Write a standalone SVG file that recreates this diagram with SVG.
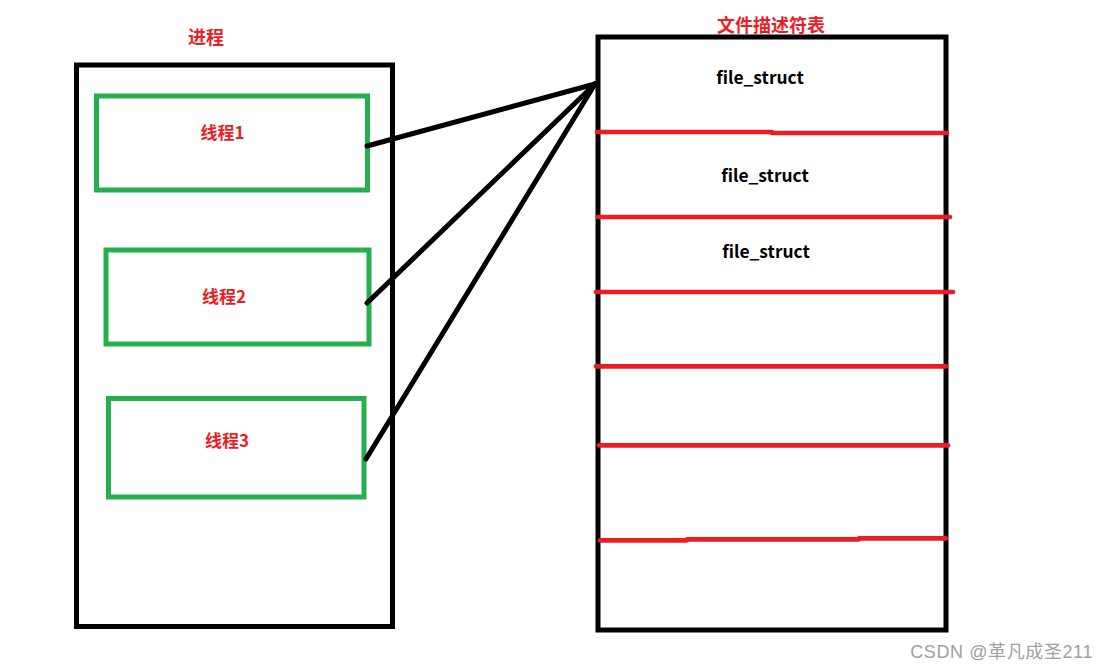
<svg xmlns="http://www.w3.org/2000/svg" width="1108" height="671" viewBox="0 0 1108 671">
<style>
.box{fill:none;stroke:#000;stroke-width:5}
.thr{fill:none;stroke:#22b14c;stroke-width:5}
.sep{stroke:#ed1c24;stroke-width:4.7;stroke-linecap:round;fill:none}
.con{stroke:#000;stroke-width:5;stroke-linecap:round;fill:none}
.lbl{font-family:"Noto Sans CJK SC","Noto Sans",sans-serif;font-weight:bold;fill:#ed1c24;text-anchor:middle}
.fs{font-family:"Noto Sans CJK SC","Noto Sans",sans-serif;font-weight:bold;fill:#000;text-anchor:middle;font-size:17.4px}
</style>
<rect width="1108" height="671" fill="#fff"/>
<g id="process">
<rect class="box" x="76.5" y="65" width="316" height="561.5"/>
<text class="lbl" x="206" y="44" font-size="18">进程</text>
</g>
<g id="thread1">
<rect class="thr" x="96.5" y="96" width="271" height="94"/>
<text class="lbl" x="222.5" y="139" font-size="17">线程1</text>
</g>
<g id="thread2">
<rect class="thr" x="106" y="250" width="263" height="94"/>
<text class="lbl" x="224" y="303" font-size="17">线程2</text>
</g>
<g id="thread3">
<rect class="thr" x="108.5" y="398.5" width="255.5" height="98.5"/>
<text class="lbl" x="227" y="447" font-size="17">线程3</text>
</g>
<g id="fdtable">
<rect class="box" x="598" y="37" width="348" height="593"/>
<text class="lbl" x="771" y="32" font-size="18">文件描述符表</text>
<path class="sep" d="M597 132 H772 M772 133 H947"/>
<path class="sep" d="M598 217 H950"/>
<path class="sep" d="M596 292 H953"/>
<path class="sep" d="M596 366.3 H946"/>
<path class="sep" d="M599 445.3 H948"/>
<path class="sep" d="M600 540.3 H687 M687 539.3 H859 M859 538.3 H946"/>
<text class="fs" x="760" y="84">file_struct</text>
<text class="fs" x="765" y="182">file_struct</text>
<text class="fs" x="766" y="258">file_struct</text>
</g>
<g id="connectors">
<path class="con" d="M367 146 L595 84"/>
<path class="con" d="M367 303 L595 84"/>
<path class="con" d="M366 459 L595 84"/>
</g>
<text x="1093" y="658" font-family="'Liberation Sans','Noto Sans CJK SC',sans-serif" font-size="18" letter-spacing="0.6" fill="#a0a0a0" text-anchor="end">CSDN @革凡成圣211</text>
</svg>
